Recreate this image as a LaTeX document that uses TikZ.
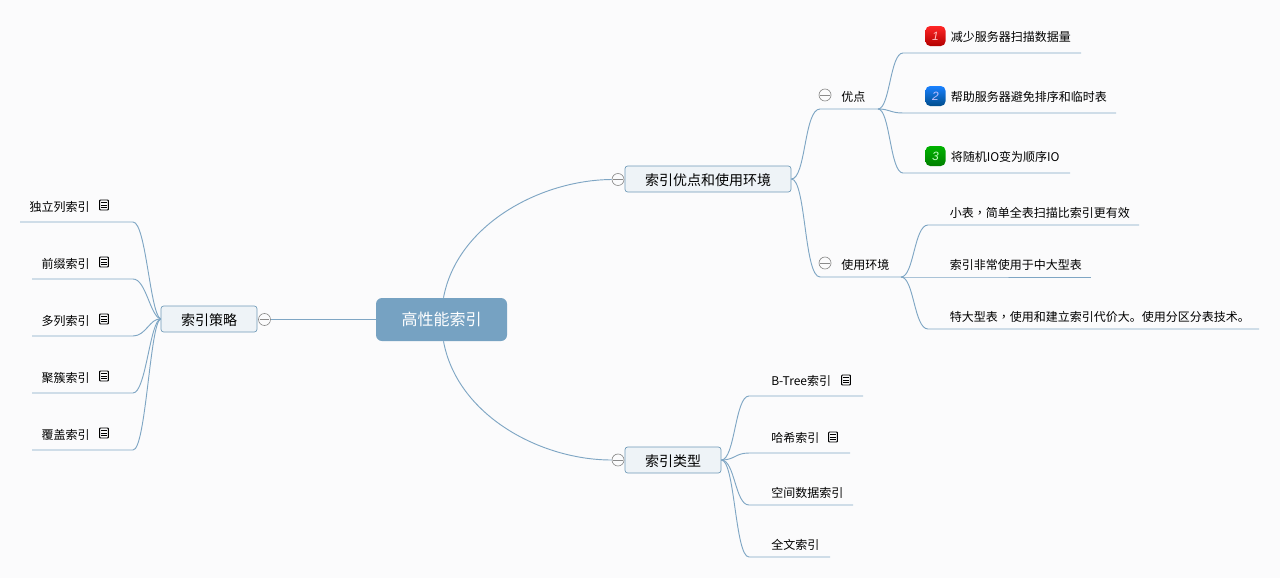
\documentclass[tikz,border=0pt]{standalone}
\usepackage{fontspec}
\setmainfont{Noto Sans CJK SC}
\newfontfamily\commafont{Noto Sans CJK TC}
\newfontfamily\badgefont{Liberation Sans}
\usetikzlibrary{positioning, calc}
\definecolor{bgcol}{HTML}{FBFBFC}
\definecolor{linecol}{HTML}{7FA6C4}
\definecolor{rootcol}{HTML}{76A2C2}
\definecolor{boxcol}{HTML}{EEF3F7}
\definecolor{boxline}{HTML}{6F9AB8}
\definecolor{minuscol}{HTML}{8A8A8A}
\tikzset{
	link/.style={draw=linecol, line width=0.7pt},
	rootbox/.style={rounded corners=4.5pt, fill=rootcol, text=white, font=\fontsize{12}{14}\selectfont, minimum width=98.25pt, minimum height=32.25pt, inner sep=0pt},
	topicbox/.style={rounded corners=2pt, draw=boxline, line width=0.5pt, fill=boxcol, font=\fontsize{10.5}{12}\selectfont, minimum height=19.5pt, inner sep=0pt, text height=10.7pt, text depth=1.3pt},
	leaf/.style={anchor=west, font=\fontsize{9}{11}\selectfont, inner sep=0pt, yshift=-0.75pt},
	minus/.style={circle, draw=minuscol, line width=0.5pt, fill=bgcol, minimum size=9pt, inner sep=0pt,
		path picture={\draw[minuscol, line width=0.5pt] ($(path picture bounding box.west)+(1pt,0)$) -- ($(path picture bounding box.east)-(1pt,0)$);}},
	noteicon/.style={rounded corners=0.6pt, draw=black, line width=0.7pt, minimum width=6.6pt, minimum height=7.5pt, inner sep=0pt,
		path picture={\foreach \k in {-1.6,0,1.6} \draw[black, line width=0.6pt] ($(path picture bounding box.center)+(-2.2pt,\k pt)$) -- ($(path picture bounding box.center)+(2.2pt,\k pt)$);}},
	badge/.style={rounded corners=3.5pt, minimum size=15pt, inner sep=0pt, text=white!75!#1, font=\badgefont\itshape\fontsize{9}{11}\selectfont},
}
\begin{document}
\begin{tikzpicture}[x=0.75pt, y=-0.75pt]
	\useasboundingbox[fill=bgcol] (0,0) rectangle (1280,578);

	% main topics
	\node[rootbox] (root) at (441.5,319.5) {高性能索引};
	\node[topicbox, minimum width=72pt] (strategy) at (209,319) {索引策略};
	\node[topicbox, minimum width=124.5pt] (benefit) at (708,179) {索引优点和使用环境};
	\node[topicbox, minimum width=72pt] (types) at (673,460) {索引类型};
	\node[minus] (mstrategy) at (264.5,319.5) {};
	\node[minus] (mbenefit) at (618,179.5) {};
	\node[minus] (mtypes) at (618,460) {};

	\path[link] (root.west) -- (mstrategy.east);
	\draw[link] ([xshift=1.5pt]root.north) .. controls (457,225) and (540,180) .. (mbenefit.west);
	\draw[link] ([xshift=1.5pt]root.south) .. controls (457,415) and (540,460) .. (mtypes.west);

	% left leaves
	\foreach \i/\y/\xa/\txt in {1/222/20/独立列索引, 2/279/32/前缀索引, 3/336/32/多列索引, 4/393/32/聚簇索引, 5/450/32/覆盖索引}{
		\coordinate (sa\i) at (133,\y);
		\coordinate (sb\i) at (\xa,\y);
		\node[leaf, anchor=east] (s\i) at (90,\y-16) {\txt};
		\node[noteicon] (sn\i) at (104,\y-17) {};
		\draw[link] (strategy.west) .. controls (150,312+\i*2) and (146,\y) .. (sa\i) -- (sb\i);
	}

	% second level on the right
	\node[minus] (mgood) at (825,95) {};
	\node[minus] (muse) at (825,263) {};
	\node[leaf] (good) at (841,96) {优点};
	\node[leaf] (use) at (841,264) {使用环境};
	\coordinate (gooda) at (820,109);
	\coordinate (goodb) at (878,109);
	\coordinate (usea) at (820,277);
	\coordinate (useb) at (901,277);
	\draw[link] (benefit.east) .. controls (806,179) and (804,109) .. (gooda) -- (goodb);
	\draw[link] (benefit.east) .. controls (806,179) and (804,277) .. (usea) -- (useb);

	% numbered leaves
	\node[badge=red, top color=red!85!white, bottom color=red!70!black] (b1) at (935.5,36) {1};
	\node[badge=blue, top color=blue!55!cyan!90!white, bottom color=blue!45!cyan!55!black] (b2) at (935.5,96) {2};
	\node[badge=green, top color=green!70!black, bottom color=green!50!black] (b3) at (935.5,156) {3};
	\foreach \i/\y/\xb/\txt in {1/53/1081/减少服务器扫描数据量, 2/113/1116/帮助服务器避免排序和临时表, 3/173/1070/将随机IO变为顺序IO}{
		\coordinate (ga\i) at (903,\y);
		\coordinate (gb\i) at (\xb,\y);
		\node[leaf] (g\i) at (950.5,\y-17) {\txt};
		\draw[link] (goodb) .. controls (890,109) and (890,\y) .. (ga\i) -- (gb\i);
	}
	\foreach \i/\y/\xb/\txt in {1/225/1139/小表{\commafont ，}简单全表扫描比索引更有效, 2/277/1091/索引非常使用于中大型表, 3/329/1259/特大型表{\commafont ，}使用和建立索引代价大。使用分区分表技术。}{
		\coordinate (ua\i) at (928,\y);
		\coordinate (ub\i) at (\xb,\y);
		\node[leaf] (u\i) at (949.5,\y-13) {\txt};
		\draw[link] (useb) .. controls (914,277) and (914,\y) .. (ua\i) -- (ub\i);
	}

	% index types
	\foreach \i/\y/\dy/\xb/\txt in {1/396/16/863/B-Tree索引, 2/453/16/850/哈希索引, 3/505/13/853/空间数据索引, 4/557/13/830/全文索引}{
		\coordinate (ta\i) at (749,\y);
		\coordinate (tb\i) at (\xb,\y);
		\node[leaf] (t\i) at (771,\y-\dy) {\txt};
		\draw[link] (types.east) .. controls (735,460) and (735,\y) .. (ta\i) -- (tb\i);
	}
	\node[noteicon] (tn1) at (846,380) {};
	\node[noteicon] (tn2) at (833,437) {};
\end{tikzpicture}
\end{document}
